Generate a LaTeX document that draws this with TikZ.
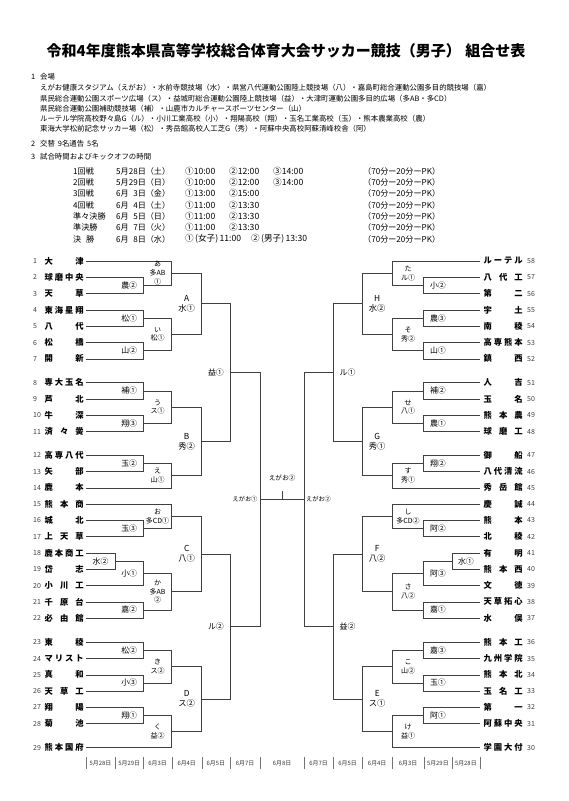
\documentclass[tikz,border=0pt]{standalone}
\usepackage{fontspec}
\setmainfont{Noto Sans CJK JP}
\usetikzlibrary{calc}
\tikzset{
  br/.style={line width=0.6pt, draw=black!75},
  tick/.style={line width=0.4pt, draw=black!55},
  tnum/.style={anchor=west, inner sep=0pt, text=black!75, font=\fontsize{7}{7}\selectfont},
  tname/.style={anchor=west, inner sep=0pt, font=\fontsize{8.3}{8.3}\selectfont\bfseries},
  lab1/.style={inner sep=0pt, font=\fontsize{7.9}{8}\selectfont},
  lab2/.style={inner sep=0pt, align=center, font=\fontsize{7}{8.8}\selectfont},
  lab3/.style={inner sep=0pt, align=center, font=\fontsize{8.3}{10}\selectfont},
  labs/.style={inner sep=0pt, font=\fontsize{6.2}{6.2}\selectfont},
  datel/.style={inner sep=0pt, text=black!80, font=\fontsize{5.9}{6}\selectfont},
  info/.style={anchor=west, inner sep=0pt, font=\fontsize{7.4}{7.4}\selectfont},
  sched/.style={anchor=west, inner sep=0pt, font=\fontsize{8.1}{8.1}\selectfont},
  schedt/.style={anchor=west, inner sep=0pt, font=\fontsize{8.6}{8.6}\selectfont},
}
\newcommand\bm[7]{%
  \draw[br] (#2) -- (#2 -| #4) -- (#3 -| #4) -- (#3);
  \coordinate (#1) at ($(#2 -| #4)!0.5!(#3 -| #4)$);
  \node[#6] (#1l) at (#1 -| #5) {#7};
}
\begin{document}
\begin{tikzpicture}[x=1pt,y=-1pt]
\fill[white] (0,0) rectangle (568,801);
\useasboundingbox (0,0) rectangle (568,801);

% ---------- header ----------
\node[inner sep=0pt, font=\fontsize{15}{16}\selectfont\bfseries] (title) at (286,51)
  {令和4年度熊本県高等学校総合体育大会サッカー競技（男子）\hspace{0.3em}組合せ表};
\node[info] (h1n) at (31,77) {1};
\node[info] (h1) at (40,77) {会場};
\node[info] (v1) at (40,88) {えがお健康スタジアム（えがお）・水前寺競技場（水）・県営八代運動公園陸上競技場（八）・嘉島町総合運動公園多目的競技場（嘉）};
\node[info] (v2) at (40,98.2) {県民総合運動公園スポーツ広場（ス）・益城町総合運動公園陸上競技場（益）・大津町運動公園多目的広場（多AB・多CD）};
\node[info] (v3) at (40,108.4) {県民総合運動公園補助競技場（補）・山鹿市カルチャースポーツセンター（山）};
\node[info] (v4) at (40,118.6) {ルーテル学院高校野々島G（ル）・小川工業高校（小）・翔陽高校（翔）・玉名工業高校（玉）・熊本農業高校（農）};
\node[info] (v5) at (40,128.8) {東海大学松前記念サッカー場（松）・秀岳館高校人工芝G（秀）・阿蘇中央高校阿蘇清峰校舎（阿）};
\node[info] (h2n) at (31,144) {2};
\node[info] (h2) at (40,144) {交替\hspace{0.4em}9名通告\hspace{0.4em}5名};
\node[info] (h3n) at (31,157) {3};
\node[info] (h3) at (40,157) {試合時間およびキックオフの時間};
\foreach \k/\a/\b in {
  0/1回戦/5月28日（土）,
  1/2回戦/5月29日（日）,
  2/3回戦/6月\hphantom{0}3日（金）,
  3/4回戦/6月\hphantom{0}4日（土）,
  4/準々決勝/6月\hphantom{0}5日（日）,
  5/準決勝/6月\hphantom{0}7日（火）,
  6/決\hspace{0.6em}勝/6月\hphantom{0}8日（水）}{
  \node[sched] (sa\k) at (73,{171+11.33*\k}) {\a};
  \node[sched] (sb\k) at (116,{171+11.33*\k}) {\b};
  \node[sched] (sd\k) at (363,{171+11.33*\k}) {（70分ー20分ーPK）};
}
\foreach \k/\p/\q/\r in {0/10:00/12:00/14:00, 1/10:00/12:00/14:00}{
  \node[schedt] (sp\k) at (185,{171+11.33*\k}) {①\p};
  \node[schedt] (sq\k) at (229,{171+11.33*\k}) {②\q};
  \node[schedt] (sr\k) at (273,{171+11.33*\k}) {③\r};
}
\foreach \k/\p/\q in {2/13:00/15:00, 3/11:00/13:30, 4/11:00/13:30, 5/11:00/13:30}{
  \node[schedt] (sp\k) at (185,{171+11.33*\k}) {①\p};
  \node[schedt] (sq\k) at (229,{171+11.33*\k}) {②\q};
}
\node[schedt] (sp6) at (185,{171+11.33*6}) {①\,(女子)\,11:00};
\node[schedt] (sq6) at (251,{171+11.33*6}) {②\,(男子)\,13:30};

% ---------- columns ----------
\coordinate (L0) at (86,0);   \coordinate (L1) at (115,0);  \coordinate (L2) at (143.3,0);
\coordinate (L3) at (171.7,0);\coordinate (L4) at (201.7,0);\coordinate (L5) at (230,0);
\coordinate (L6) at (260,0);
\coordinate (R0) at (479.7,0);\coordinate (R1) at (452,0);  \coordinate (R2) at (423.7,0);
\coordinate (R3) at (392.3,0);\coordinate (R4) at (362,0);  \coordinate (R5) at (333,0);
\coordinate (R6) at (304,0);
\coordinate (XL1) at (100.5,0);\coordinate (XL2) at (129.2,0);\coordinate (XL3) at (157.5,0);
\coordinate (XL4) at (186.7,0);\coordinate (XL5) at (215.9,0);\coordinate (XL6) at (245,0);
\coordinate (XR1) at (465.9,0);\coordinate (XR2) at (437.9,0);\coordinate (XR3) at (408,0);
\coordinate (XR4) at (377.2,0);\coordinate (XR5) at (347.5,0);\coordinate (XR6) at (318.5,0);

% ---------- teams left ----------
\foreach \i/\y/\nm in {
1/261.0/{大\hfill 津},
2/277.3/{球\hfill 磨\hfill 中\hfill 央},
3/293.6/{天\hfill 草},
4/309.9/{東\hfill 海\hfill 星\hfill 翔},
5/326.2/{八\hfill 代},
6/342.5/{松\hfill 橋},
7/358.8/{開\hfill 新},
8/382.7/{専\hfill 大\hfill 玉\hfill 名},
9/399.0/{芦\hfill 北},
10/415.3/{牛\hfill 深},
11/431.6/{済\hfill 々\hfill 黌},
12/455.2/{高\hfill 専\hfill 八\hfill 代},
13/471.5/{矢\hfill 部},
14/487.8/{鹿\hfill 本},
15/504.0/{熊\hfill 本\hfill 商},
16/520.3/{城\hfill 北},
17/536.6/{上\hfill 天\hfill 草},
18/552.9/{鹿\hfill 本\hfill 商\hfill 工},
19/569.2/{岱\hfill 志},
20/585.5/{小\hfill 川\hfill 工},
21/601.8/{千\hfill 原\hfill 台},
22/618.1/{必\hfill 由\hfill 館},
23/642.2/{東\hfill 稜},
24/658.5/{マ\hfill リ\hfill ス\hfill ト},
25/674.8/{真\hfill 和},
26/691.1/{天\hfill 草\hfill 工},
27/707.4/{翔\hfill 陽},
28/723.7/{菊\hfill 池},
29/747.6/{熊\hfill 本\hfill 国\hfill 府}}{
  \node[tnum] (n\i) at (33,\y) {\i};
  \node[tname] (t\i) at (44.5,\y) {\makebox[39pt][s]{\nm}};
  \coordinate (s\i) at (86,\y);
}
% ---------- teams right ----------
\foreach \i/\y/\nm in {
58/261.0/{ル\hfill ー\hfill テ\hfill ル},
57/277.3/{八\hfill 代\hfill 工},
56/293.6/{第\hfill 二},
55/309.9/{宇\hfill 土},
54/326.2/{南\hfill 稜},
53/342.5/{高\hfill 専\hfill 熊\hfill 本},
52/358.8/{鎮\hfill 西},
51/382.7/{人\hfill 吉},
50/399.0/{玉\hfill 名},
49/415.3/{熊\hfill 本\hfill 農},
48/431.6/{球\hfill 磨\hfill 工},
47/455.2/{御\hfill 船},
46/471.5/{八\hfill 代\hfill 清\hfill 流},
45/487.8/{秀\hfill 岳\hfill 館},
44/504.0/{慶\hfill 誠},
43/520.3/{熊\hfill 本},
42/536.6/{北\hfill 稜},
41/552.9/{有\hfill 明},
40/569.2/{熊\hfill 本\hfill 西},
39/585.5/{文\hfill 徳},
38/601.8/{天\hfill 草\hfill 拓\hfill 心},
37/618.1/{水\hfill 俣},
36/642.2/{熊\hfill 本\hfill 工},
35/658.5/{九\hfill 州\hfill 学\hfill 院},
34/674.8/{熊\hfill 本\hfill 北},
33/691.1/{玉\hfill 名\hfill 工},
32/707.4/{第\hfill 一},
31/723.7/{阿\hfill 蘇\hfill 中\hfill 央},
30/747.6/{学\hfill 園\hfill 大\hfill 付}}{
  \node[tname] (t\i) at (483.5,\y) {\makebox[39pt][s]{\nm}};
  \node[tnum] (n\i) at (527,\y) {\i};
  \coordinate (s\i) at (479.7,\y);
}

% ---------- left bracket ----------
\bm{m23}{s2}{s3}{L2}{XL2}{lab1}{農②}
\bm{m45}{s4}{s5}{L2}{XL2}{lab1}{松①}
\bm{m67}{s6}{s7}{L2}{XL2}{lab1}{山②}
\bm{ma}{s1}{m23}{L3}{XL3}{lab2}{あ\\多AB\\①}
\bm{mi}{m45}{m67}{L3}{XL3}{lab2}{い\\松①}
\bm{mA}{ma}{mi}{L4}{XL4}{lab3}{A\\水①}
\bm{m89}{s8}{s9}{L2}{XL2}{lab1}{補①}
\bm{m1011}{s10}{s11}{L2}{XL2}{lab1}{翔③}
\bm{mu}{m89}{m1011}{L3}{XL3}{lab2}{う\\ス①}
\bm{m1213}{s12}{s13}{L2}{XL2}{lab1}{玉②}
\bm{me}{m1213}{s14}{L3}{XL3}{lab2}{え\\山①}
\bm{mB}{mu}{me}{L4}{XL4}{lab3}{B\\秀②}
\bm{mLa}{mA}{mB}{L5}{XL5}{lab1}{益①}
\bm{m1617}{s16}{s17}{L2}{XL2}{lab1}{玉③}
\bm{mo}{s15}{m1617}{L3}{XL3}{lab2}{お\\多CD①}
\bm{m1819}{s18}{s19}{L1}{XL1}{lab1}{水②}
\bm{m20}{m1819}{s20}{L2}{XL2}{lab1}{小①}
\bm{m2122}{s21}{s22}{L2}{XL2}{lab1}{嘉②}
\bm{mka}{m20}{m2122}{L3}{XL3}{lab2}{か\\多AB\\②}
\bm{mC}{mo}{mka}{L4}{XL4}{lab3}{C\\八①}
\bm{m2324}{s23}{s24}{L2}{XL2}{lab1}{松②}
\bm{m2526}{s25}{s26}{L2}{XL2}{lab1}{小③}
\bm{mki}{m2324}{m2526}{L3}{XL3}{lab2}{き\\ス②}
\bm{m2728}{s27}{s28}{L2}{XL2}{lab1}{翔①}
\bm{mku}{m2728}{s29}{L3}{XL3}{lab2}{く\\益②}
\bm{mD}{mki}{mku}{L4}{XL4}{lab3}{D\\ス②}
\bm{mLb}{mC}{mD}{L5}{XL5}{lab1}{ル②}
\bm{eL}{mLa}{mLb}{L6}{XL6}{labs}{えがお①}

% ---------- right bracket ----------
\bm{m5756}{s57}{s56}{R2}{XR2}{lab1}{小②}
\bm{mta}{s58}{m5756}{R3}{XR3}{lab2}{た\\ル①}
\bm{m5554}{s55}{s54}{R2}{XR2}{lab1}{農③}
\bm{m5352}{s53}{s52}{R2}{XR2}{lab1}{山①}
\bm{mso}{m5554}{m5352}{R3}{XR3}{lab2}{そ\\秀②}
\bm{mH}{mta}{mso}{R4}{XR4}{lab3}{H\\水②}
\bm{m5150}{s51}{s50}{R2}{XR2}{lab1}{補②}
\bm{m4948}{s49}{s48}{R2}{XR2}{lab1}{農①}
\bm{mse}{m5150}{m4948}{R3}{XR3}{lab2}{せ\\八①}
\bm{m4746}{s47}{s46}{R2}{XR2}{lab1}{翔②}
\bm{msu}{m4746}{s45}{R3}{XR3}{lab2}{す\\秀①}
\bm{mG}{mse}{msu}{R4}{XR4}{lab3}{G\\秀①}
\bm{mRa}{mH}{mG}{R5}{XR5}{lab1}{ル①}
\bm{m4342}{s43}{s42}{R2}{XR2}{lab1}{阿②}
\bm{mshi}{s44}{m4342}{R3}{XR3}{lab2}{し\\多CD②}
\bm{m4140}{s41}{s40}{R1}{XR1}{lab1}{水①}
\bm{m39}{m4140}{s39}{R2}{XR2}{lab1}{阿③}
\bm{m3837}{s38}{s37}{R2}{XR2}{lab1}{嘉①}
\bm{msa}{m39}{m3837}{R3}{XR3}{lab2}{さ\\八②}
\bm{mF}{mshi}{msa}{R4}{XR4}{lab3}{F\\八②}
\bm{m3635}{s36}{s35}{R2}{XR2}{lab1}{嘉③}
\bm{m3433}{s34}{s33}{R2}{XR2}{lab1}{玉①}
\bm{mko}{m3635}{m3433}{R3}{XR3}{lab2}{こ\\山②}
\bm{m3231}{s32}{s31}{R2}{XR2}{lab1}{阿①}
\bm{mke}{m3231}{s30}{R3}{XR3}{lab2}{け\\益①}
\bm{mE}{mko}{mke}{R4}{XR4}{lab3}{E\\ス①}
\bm{mRb}{mF}{mE}{R5}{XR5}{lab1}{益②}
\bm{eR}{mRa}{mRb}{R6}{XR6}{labs}{えがお②}

% ---------- final ----------
\draw[br] (eL) -- (eR);
\coordinate (fc) at ($(eL)!0.5!(eR)$);
\coordinate (ft) at ($(fc)+(0,-9)$);
\draw[br] (fc) -- (ft);
\node[inner sep=0pt, font=\fontsize{6.6}{6.6}\selectfont, anchor=south] (fl) at ($(ft)+(0,-9)$) {えがお②};

% ---------- dates ----------
\foreach \c in {L0,L1,L2,L3,L4,L5,L6,R0,R1,R2,R3,R4,R5,R6}{
  \draw[tick] ($(\c)+(0,757)$) -- ($(\c)+(0,769)$);
}
\foreach \a/\b/\t/\nme in {L0/L1/5月28日/da, L1/L2/5月29日/db, L2/L3/6月3日/dc, L3/L4/6月4日/dd, L4/L5/6月5日/de, L5/L6/6月7日/df,
  R0/R1/5月28日/dg, R1/R2/5月29日/dh, R2/R3/6月3日/di, R3/R4/6月4日/dj, R4/R5/6月5日/dk, R5/R6/6月7日/dl}{
  \node[datel] (\nme) at ($(\a)!0.5!(\b)+(0,763)$) {\t};
}
\node[datel] (dm) at ($(L6)!0.5!(R6)+(0,763)$) {6月8日};
\end{tikzpicture}
\end{document}
